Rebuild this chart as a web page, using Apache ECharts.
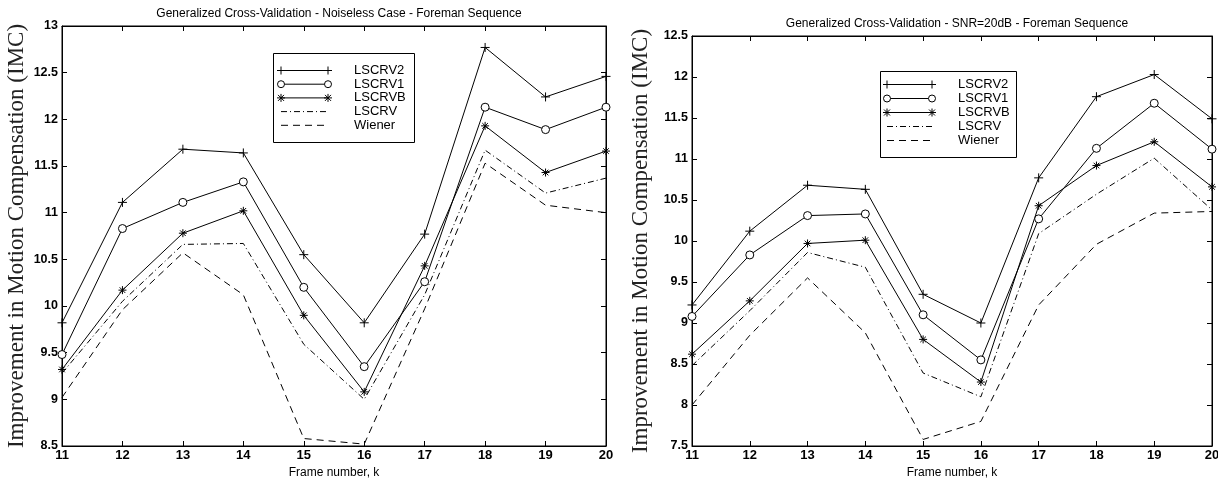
<!DOCTYPE html>
<html>
<head>
<meta charset="utf-8">
<script src="https://cdn.jsdelivr.net/npm/echarts@6/dist/echarts.min.js"></script>
<style>
html,body{margin:0;padding:0;background:#fff;}
#chart{width:1218px;height:483px;}
</style>
</head>
<body>
<div id="chart"></div>
<script>
// ---------- data ----------
const frames = ['11','12','13','14','15','16','17','18','19','20'];
const seriesNames = ['LSCRV2','LSCRV1','LSCRVB','LSCRV','Wiener'];

// Noiseless case
const nlLSCRV2 = [9.82, 11.11, 11.68, 11.64, 10.55, 9.82, 10.77, 12.77, 12.24, 12.46];
const nlLSCRV1 = [9.48, 10.83, 11.11, 11.33, 10.20, 9.35, 10.26, 12.13, 11.89, 12.13];
const nlLSCRVB = [9.32, 10.17, 10.78, 11.02, 9.90, 9.08, 10.43, 11.93, 11.43, 11.66];
const nlLSCRV  = [9.28, 10.05, 10.66, 10.67, 9.59, 9.00, 10.12, 11.67, 11.21, 11.37];
const nlWiener = [9.02, 9.96, 10.57, 10.12, 8.58, 8.52, 9.97, 11.53, 11.08, 11.00];

// SNR = 20dB
const snLSCRV2 = [9.22, 10.12, 10.68, 10.63, 9.35, 9.00, 10.77, 11.76, 12.03, 11.49];
const snLSCRV1 = [9.08, 9.83, 10.31, 10.33, 9.10, 8.55, 10.27, 11.13, 11.68, 11.12];
const snLSCRVB = [8.62, 9.27, 9.97, 10.01, 8.80, 8.28, 10.43, 10.92, 11.21, 10.66];
const snLSCRV  = [8.48, 9.15, 9.86, 9.68, 8.39, 8.10, 10.09, 10.57, 11.01, 10.38];
const snWiener = [8.00, 8.85, 9.55, 8.88, 7.58, 7.80, 9.22, 9.96, 10.34, 10.36];

const titleLeft = 'Generalized Cross-Validation - Noiseless Case - Foreman Sequence';
const titleRight = 'Generalized Cross-Validation - SNR=20dB - Foreman Sequence';
const yTitle = 'Improvement in Motion Compensation (IMC)';
const xTitle = 'Frame number, k';

// ---------- styles ----------
const SANS = '"Liberation Sans", Arial, Helvetica, sans-serif';
const SERIF = '"Liberation Serif", "Times New Roman", serif';
const INK = '#000';
const PLUS = 'path://M5,0L5,10M0,5L10,5';
const STAR = 'path://M5,0L5,10M0,5L10,5M1.5,1.5L8.5,8.5M8.5,1.5L1.5,8.5';

const styles = [
  {symbol: PLUS, symbolSize: 9, fill: 'none', type: 'solid'},
  {symbol: 'circle', symbolSize: 8, fill: '#fff', type: 'solid'},
  {symbol: STAR, symbolSize: 8, fill: 'none', type: 'solid'},
  {symbol: 'none', symbolSize: 0, fill: 'none', type: [6,3,1,3]},
  {symbol: 'none', symbolSize: 0, fill: 'none', type: [7,5]}
];

function makeSeries(gridIdx, arrays) {
  return arrays.map((d, i) => ({
    name: seriesNames[i],
    type: 'line',
    xAxisIndex: gridIdx * 2,
    yAxisIndex: gridIdx * 2,
    data: d,
    symbol: styles[i].symbol,
    symbolSize: styles[i].symbolSize,
    showSymbol: styles[i].symbol !== 'none',
    animation: false,
    silent: true,
    z: 5 - i,
    lineStyle: {color: INK, width: 1, type: styles[i].type},
    itemStyle: {color: styles[i].fill, borderColor: INK, borderWidth: 1}
  }));
}

function xAxes(gridIdx) {
  const base = {
    gridIndex: gridIdx, type: 'category', data: frames, boundaryGap: false,
    axisLine: {show: true, lineStyle: {color: INK, width: 1}},
    axisTick: {show: true, inside: true, length: 5, interval: 0, lineStyle: {color: INK}},
    splitLine: {show: false}
  };
  return [
    Object.assign({}, base, {
      position: 'bottom',
      axisLabel: {show: true, interval: 0, margin: 3, color: INK, fontFamily: SANS, fontSize: 13, fontWeight: 'bold'},
      name: xTitle, nameLocation: 'middle', nameGap: 20,
      nameTextStyle: {color: INK, fontFamily: SANS, fontSize: 12}
    }),
    Object.assign({}, base, {position: 'top', axisLabel: {show: false}})
  ];
}

function yAxes(gridIdx, min, max, gap) {
  const base = {
    gridIndex: gridIdx, type: 'value', min: min, max: max, interval: 0.5,
    axisLine: {show: true, lineStyle: {color: INK, width: 1}},
    axisTick: {show: true, inside: true, length: 5, lineStyle: {color: INK}},
    splitLine: {show: false}
  };
  return [
    Object.assign({}, base, {
      position: 'left',
      axisLabel: {show: true, margin: 4, color: INK, fontFamily: SANS, fontSize: 12.5, fontWeight: 'bold'},
      name: yTitle, nameLocation: 'middle', nameGap: gap, nameRotate: 90,
      nameTextStyle: {color: '#222', fontFamily: SERIF, fontSize: 23}
    }),
    Object.assign({}, base, {position: 'right', axisLabel: {show: false}})
  ];
}

// ---------- legend (drawn as graphics) ----------
function legendBox(x0, y0, w, h, rowY0, rowGap, lx1, lx2, tx) {
  const els = [{
    type: 'rect', shape: {x: x0 + 0.5, y: y0 + 0.5, width: w, height: h},
    style: {fill: '#fff', stroke: INK, lineWidth: 1}, z: 100
  }];
  seriesNames.forEach((nm, i) => {
    const y = rowY0 + i * rowGap + 0.5;
    const dash = Array.isArray(styles[i].type) ? styles[i].type : null;
    els.push({type: 'line', shape: {x1: lx1, y1: y, x2: lx2, y2: y},
      style: {stroke: INK, lineWidth: 1, lineDash: dash}, z: 101});
    [lx1, lx2].forEach(cx => {
      if (i === 0) {
        els.push({type: 'line', shape: {x1: cx - 4, y1: y, x2: cx + 4, y2: y}, style: {stroke: INK, lineWidth: 1}, z: 102});
        els.push({type: 'line', shape: {x1: cx, y1: y - 4, x2: cx, y2: y + 4}, style: {stroke: INK, lineWidth: 1}, z: 102});
      } else if (i === 1) {
        els.push({type: 'circle', shape: {cx: cx, cy: y, r: 3.5}, style: {fill: '#fff', stroke: INK, lineWidth: 1}, z: 102});
      } else if (i === 2) {
        els.push({type: 'line', shape: {x1: cx - 4, y1: y, x2: cx + 4, y2: y}, style: {stroke: INK, lineWidth: 1}, z: 102});
        els.push({type: 'line', shape: {x1: cx, y1: y - 4, x2: cx, y2: y + 4}, style: {stroke: INK, lineWidth: 1}, z: 102});
        els.push({type: 'line', shape: {x1: cx - 3, y1: y - 3, x2: cx + 3, y2: y + 3}, style: {stroke: INK, lineWidth: 1}, z: 102});
        els.push({type: 'line', shape: {x1: cx + 3, y1: y - 3, x2: cx - 3, y2: y + 3}, style: {stroke: INK, lineWidth: 1}, z: 102});
      }
    });
    els.push({type: 'text', x: tx, y: y, z: 102,
      style: {text: nm, fill: INK, font: '13px ' + SANS, textVerticalAlign: 'middle', verticalAlign: 'middle', textAlign: 'left'}});
  });
  return els;
}

const chart = echarts.init(document.getElementById('chart'), null, {renderer: 'canvas'});
chart.setOption({
  backgroundColor: '#fff',
  animation: false,
  title: [
    {text: titleLeft, left: 334, top: 3, textAlign: 'center',
      textStyle: {fontFamily: SANS, fontSize: 12, fontWeight: 'normal', color: INK}},
    {text: titleRight, left: 952, top: 13, textAlign: 'center',
      textStyle: {fontFamily: SANS, fontSize: 12, fontWeight: 'normal', color: INK}}
  ],
  grid: [
    {left: 62, top: 26, width: 544, height: 420, show: true, borderColor: INK, borderWidth: 1, backgroundColor: 'transparent', outerBoundsMode: 'none', containLabel: false},
    {left: 692, top: 36, width: 520, height: 410, show: true, borderColor: INK, borderWidth: 1, backgroundColor: 'transparent', outerBoundsMode: 'none', containLabel: false}
  ],
  xAxis: xAxes(0).concat(xAxes(1)),
  yAxis: yAxes(0, 8.5, 13, 34).concat(yAxes(1, 7.5, 12.5, 40)),
  series: makeSeries(0, [nlLSCRV2, nlLSCRV1, nlLSCRVB, nlLSCRV, nlWiener])
    .concat(makeSeries(1, [snLSCRV2, snLSCRV1, snLSCRVB, snLSCRV, snWiener])),
  graphic: legendBox(273, 53, 141, 89, 70, 13.7, 281, 328, 354)
    .concat(legendBox(880, 71, 136, 86, 84, 14, 887, 932, 958))
});
</script>
</body>
</html>
